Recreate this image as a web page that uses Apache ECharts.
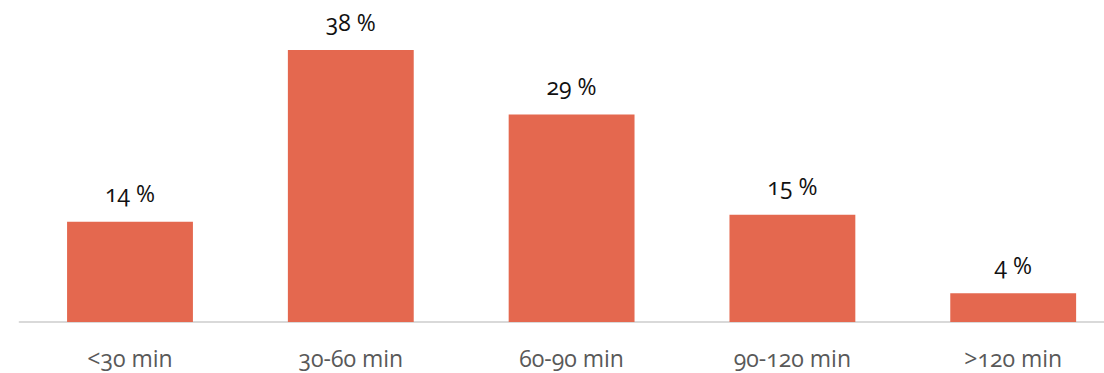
<!DOCTYPE html>
<html>
<head>
<meta charset="utf-8">
<script src="https://cdn.jsdelivr.net/npm/echarts@6/dist/echarts.min.js"></script>
<style>
  html, body { margin: 0; padding: 0; background: #fff; }
  #chart { width: 1104px; height: 373px; }
  #chart text { font-variant-numeric: oldstyle-nums; font-feature-settings: "onum" 1; }
</style>
</head>
<body>
<div id="chart"></div>
<script>
// Travel time share by duration bucket
const categories = ['<30 min', '30-60 min', '60-90 min', '90-120 min', '>120 min'];
const shares = [14, 38, 29, 15, 4];

const chart = echarts.init(document.getElementById('chart'), null, { renderer: 'svg' });
chart.setOption({
  animation: false,
  grid: {
    left: 19.6, top: 35.7, width: 1104, height: 286.3,
    containLabel: false,
    outerBoundsMode: 'none'
  },
  xAxis: {
    type: 'category',
    data: categories,
    axisLine: { lineStyle: { color: '#d9d9d9', width: 2 } },
    axisTick: { show: false },
    axisLabel: {
      color: '#595959',
      fontFamily: 'Open Sans',
      fontSize: 23,
      margin: 24
    }
  },
  yAxis: {
    type: 'value',
    min: 0,
    max: 40,
    show: false,
    splitLine: { show: false }
  },
  series: [{
    type: 'bar',
    data: shares,
    barWidth: '57%',
    itemStyle: { color: '#E4684F' },
    label: {
      show: true,
      position: 'top',
      distance: 17,
      formatter: p => p.value + ' %',
      color: '#111111',
      fontFamily: 'Open Sans',
      fontSize: 23
    }
  }]
});
</script>
</body>
</html>
